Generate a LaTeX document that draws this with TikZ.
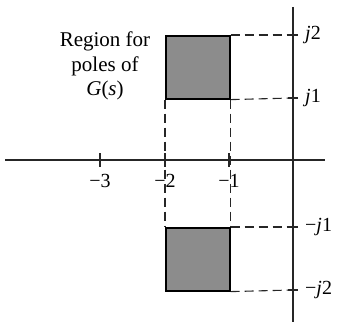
\documentclass[tikz,border=0pt]{standalone}
\usepackage{fontspec}
\setmainfont{Liberation Serif}
\begin{document}
\begin{tikzpicture}[x=1pt,y=-1pt,
  axis/.style={line width=1.2pt,black!85},
  tick/.style={line width=1.1pt,black!85},
  guide/.style={line width=1.1pt,black!85,dash pattern=on 9pt off 5pt},
  region/.style={draw=black,line width=1.6pt,fill=black!45},
  lbl/.style={font=\fontsize{20}{24}\selectfont,inner sep=0pt},
  txt/.style={font=\fontsize{21}{24.5}\selectfont,align=center,inner sep=0pt}]
\useasboundingbox (0,0) rectangle (341,323);
% coordinates
\coordinate (xl) at (5,160);
\coordinate (xr) at (325,160);
\coordinate (yt) at (293,7);
\coordinate (yb) at (293,322);
% regions
\node[region,minimum width=64pt,minimum height=63pt,inner sep=0pt,anchor=north west] (up) at (165,35) {};
\node[region,minimum width=64pt,minimum height=63pt,inner sep=0pt,anchor=north west] (lo) at (165,227) {};
% axis points
\coordinate (p2) at (293,35);
\coordinate (p1) at (293,98);
\coordinate (m1) at (293,227);
\coordinate (m2) at (293,290);
% dashed guides
\draw[guide] (up.north east) -- (p2);
\draw[guide] (up.south east) -- (p1);
\draw[guide] (lo.north east) -- (m1);
\draw[guide] (lo.south east) -- (m2);
\draw[guide] (up.south west) -- (lo.north west);
\draw[guide] (up.south east) -- (lo.north east);
% axes
\draw[axis] (xl) -- (xr);
\draw[axis] (yt) -- (yb);
% ticks
\foreach \c in {p2,p1,m1,m2} \draw[tick] ([xshift=-5pt]\c) -- ([xshift=5pt]\c);
\coordinate (t3) at (100,160);
\coordinate (t2) at (165,160);
\coordinate (t1) at (229,160);
\foreach \c in {t3,t2,t1} \draw[tick] ([yshift=-7pt]\c) -- ([yshift=7pt]\c);
% labels
\node[lbl,anchor=north] (l3) at ([yshift=-14pt]t3) {−3};
\node[lbl,anchor=north] (l2) at ([yshift=-14pt]t2) {−2};
\node[lbl,anchor=north] (l1) at ([yshift=-14pt]t1) {−1};
\node[lbl,anchor=west] (lj2) at ([xshift=12pt]p2) {\itshape j\upshape 2};
\node[lbl,anchor=west] (lj1) at ([xshift=12pt]p1) {\itshape j\upshape 1};
\node[lbl,anchor=west] (lmj1) at ([xshift=12pt]m1) {−\itshape j\upshape 1};
\node[lbl,anchor=west] (lmj2) at ([xshift=12pt]m2) {−\itshape j\upshape 2};
\node[txt] (reg) at (105,66) {Region for\\poles of\\\itshape G\upshape (\itshape s\upshape )};
\end{tikzpicture}
\end{document}
